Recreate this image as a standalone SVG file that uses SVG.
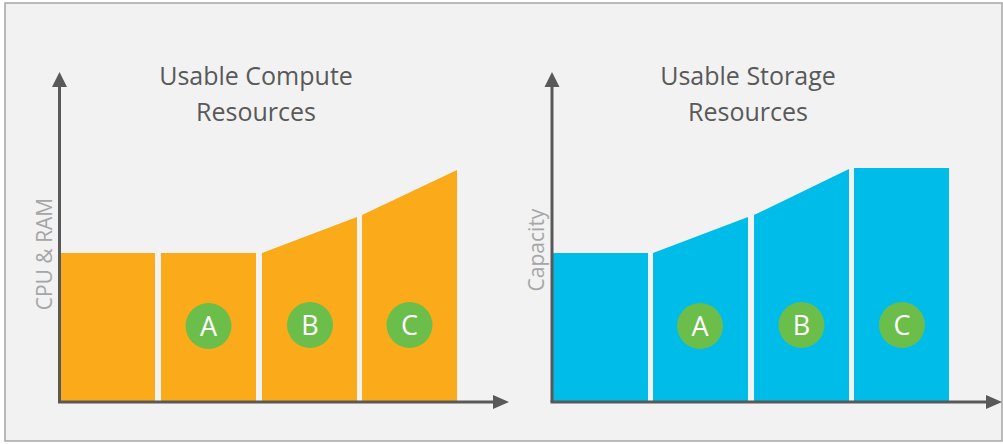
<svg xmlns="http://www.w3.org/2000/svg" width="1003" height="444" viewBox="0 0 1003 444">
<defs>
<style>
.title{font-family:"Open Sans","Liberation Sans",sans-serif;font-size:25px;fill:#595959;text-anchor:middle}
.axl{font-family:"Open Sans","Liberation Sans",sans-serif;font-size:21px;fill:#a6a6a6;text-anchor:middle}
.axis{stroke:#595959;stroke-width:3;fill:none}
.head{fill:#595959}
.orange{fill:#FBAB19}
.blue{fill:#00BCE9}
.badge circle{fill:#6CBE4B}
.badge text{font-family:"Open Sans","Liberation Sans",sans-serif;font-size:27px;fill:#ffffff;text-anchor:middle}
</style>
</defs>
<rect x="5" y="3" width="997" height="438" fill="#f2f2f2" stroke="#a6a6a6" stroke-width="1.5"/>

<g id="compute-chart">
  <text class="title" x="256" y="85">Usable Compute</text>
  <text class="title" x="256" y="121">Resources</text>
  <text class="axl" transform="translate(52,254) rotate(-90)">CPU &amp; RAM</text>
  <polygon class="orange" points="60,253 155,253 155,401 60,401"/>
  <polygon class="orange" points="161,253 256,253 256,401 161,401"/>
  <polygon class="orange" points="262,253 357,217 357,401 262,401"/>
  <polygon class="orange" points="362,215 457,170 457,401 362,401"/>
  <g class="badge" id="compute-A"><circle cx="208.5" cy="326" r="23"/><text x="208.5" y="336">A</text></g>
  <g class="badge" id="compute-B"><circle cx="310" cy="325" r="23"/><text x="310" y="335">B</text></g>
  <g class="badge" id="compute-C"><circle cx="409.5" cy="325" r="23"/><text x="409.5" y="335">C</text></g>
</g>

<g id="storage-chart">
  <text class="title" x="748" y="85">Usable Storage</text>
  <text class="title" x="748" y="121">Resources</text>
  <text class="axl" transform="translate(544,250) rotate(-90)">Capacity</text>
  <polygon class="blue" points="553,253 648,253 648,401 553,401"/>
  <polygon class="blue" points="653,253 748,217 748,401 653,401"/>
  <polygon class="blue" points="754,215 849,169 849,401 754,401"/>
  <polygon class="blue" points="854,168 949,168 949,401 854,401"/>
  <g class="badge" id="storage-A"><circle cx="700" cy="326" r="23"/><text x="700" y="336">A</text></g>
  <g class="badge" id="storage-B"><circle cx="801.5" cy="325" r="23"/><text x="801.5" y="335">B</text></g>
  <g class="badge" id="storage-C"><circle cx="902" cy="325" r="23"/><text x="902" y="335">C</text></g>
</g>

<g id="connectors">
  <line class="axis" x1="59.5" y1="402" x2="59.5" y2="86"/>
  <polygon class="head" points="59.5,72 52,87 67,87"/>
  <line class="axis" x1="58" y1="402" x2="494" y2="402"/>
  <polygon class="head" points="509,402 493,395 493,409"/>
  <line class="axis" x1="552" y1="402" x2="552" y2="86"/>
  <polygon class="head" points="552,72 544.5,87 559.5,87"/>
  <line class="axis" x1="550.5" y1="402" x2="987" y2="402"/>
  <polygon class="head" points="1002,402 986,395 986,409"/>
</g>
</svg>
